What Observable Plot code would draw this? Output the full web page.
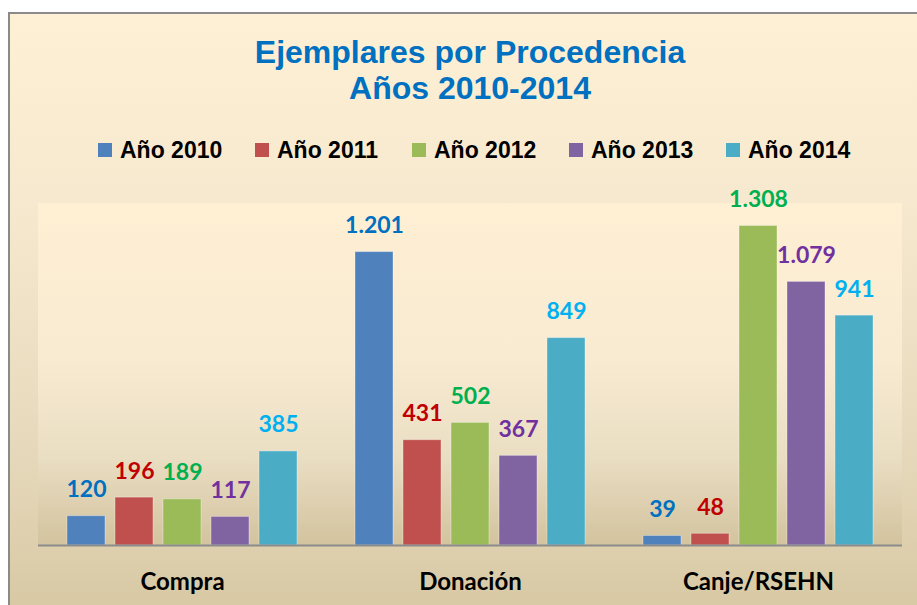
<!DOCTYPE html>
<html>
<head>
<meta charset="utf-8">
<script src="https://cdn.jsdelivr.net/npm/d3@7"></script>
<script src="https://cdn.jsdelivr.net/npm/@observablehq/plot@0.6"></script>
<style>
  body { margin: 0; background: #fff; }
  #page { position: relative; width: 917px; height: 605px; overflow: hidden; background: #fff; }
  #frame { position: absolute; left: 8px; top: 12px; width: 940px; height: 620px;
    border-left: 2px solid #8a8a8a; border-top: 2px solid #8a8a8a;
    background: linear-gradient(to bottom, #fef0d4 0%, #f6e9cf 30%, #e6d9bb 70%, #d6c6a1 100%); }
  #plotbg { position: absolute; left: 38px; top: 203px; width: 864px; height: 342px;
    background: linear-gradient(to bottom, #ffefd3 0%, #f8ebd2 45%, #e9ddc2 75%, #d3c39e 100%); }
  #title { position: absolute; left: 0; top: 34px; width: 940px; text-align: center;
    font-family: "Liberation Sans", Arial, sans-serif; font-weight: bold; font-size: 32px;
    line-height: 36px; color: #0070c0; }
  .lg-sw { position: absolute; top: 143px; width: 14px; height: 14px; }
  .lg-tx { position: absolute; top: 138px; font-family: "Liberation Sans", Arial, sans-serif;
    font-weight: bold; font-size: 23px; line-height: 24px; color: #000; white-space: nowrap; }
  #chart { position: absolute; left: 0; top: 0; }
</style>
</head>
<body>
<div id="page">
  <div id="frame"></div>
  <div id="plotbg"></div>
  <div id="title">Ejemplares por Procedencia<br>Años 2010-2014</div>
  <div id="legend"></div>
  <div id="chart"></div>
</div>
<script>
const categories = ["Compra", "Donación", "Canje/RSEHN"];
const years = ["Año 2010", "Año 2011", "Año 2012", "Año 2013", "Año 2014"];
const values2010 = [120, 1201, 39];
const values2011 = [196, 431, 48];
const values2012 = [189, 502, 1308];
const values2013 = [117, 367, 1079];
const values2014 = [385, 849, 941];
const barColors = ["#4f81bd", "#c0504d", "#9bbb59", "#8064a2", "#4bacc6"];
const labelColors = ["#0070c0", "#c00000", "#00b050", "#7030a0", "#00b0f0"];

const series = [values2010, values2011, values2012, values2013, values2014];
const data = [];
categories.forEach((c, ci) => {
  years.forEach((y, yi) => {
    data.push({ category: c, year: y, value: series[yi][ci] });
  });
});

const fmt = d3.formatLocale({ decimal: ",", thousands: ".", grouping: [3], currency: ["", "€"] }).format(",d");

// legend
const legend = document.getElementById("legend");
years.forEach((y, i) => {
  const left = 98 + 157 * i;
  const sw = document.createElement("div");
  sw.className = "lg-sw";
  sw.style.left = left + "px";
  sw.style.background = barColors[i];
  legend.appendChild(sw);
  const tx = document.createElement("div");
  tx.className = "lg-tx";
  tx.style.left = (left + 22) + "px";
  tx.textContent = y;
  legend.appendChild(tx);
});

const chart = Plot.plot({
  width: 917,
  height: 605,
  marginLeft: 38,
  marginRight: 15,
  marginTop: 203,
  marginBottom: 60,
  style: { background: "transparent", fontFamily: "Lato, 'Open Sans', sans-serif", overflow: "visible" },
  fx: { domain: categories, padding: 0, label: null },
  x: { domain: years, paddingInner: 0.2083, paddingOuter: 0.604, axis: null },
  y: { domain: [0, 1400], axis: null },
  color: { domain: years, range: barColors },
  marks: [
    Plot.barY(data, { fx: "category", x: "year", y: "value", fill: "year",
      stroke: "#ffffff", strokeOpacity: 0.35, strokeWidth: 1 }),
    Plot.ruleY([0], { stroke: "#8c8c8c", strokeWidth: 2 }),
    Plot.text(data, { fx: "category", x: "year", y: "value", text: d => fmt(d.value),
      fill: d => labelColors[years.indexOf(d.year)],
      lineAnchor: "bottom", dy: -19, fontSize: 23, fontWeight: "bold" }),
    Plot.axisFx({ anchor: "bottom", tickSize: 0, tickPadding: 27, fontSize: 24,
      fontWeight: "bold", fill: "#000", label: null })
  ]
});
document.getElementById("chart").appendChild(chart);
</script>
</body>
</html>
